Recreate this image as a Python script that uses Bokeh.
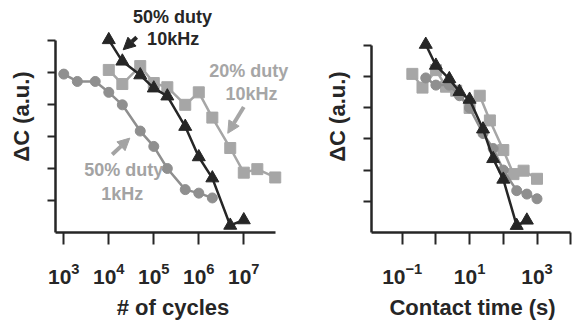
from bokeh.plotting import figure
from bokeh.layouts import row
from bokeh.models import Range1d, FixedTicker, LogTickFormatter, Label, Arrow, NormalHead
from bokeh.embed import file_html
from bokeh.resources import INLINE

# ---- data ----
cycles_tri = [1e4, 2e4, 5e4, 1e5, 2e5, 5e5, 1e6, 2e6, 5e6, 1e7]          # 50% duty 10kHz
dc_tri = [6.02, 5.35, 4.92, 4.51, 4.26, 3.31, 2.36, 1.70, 0.22, 0.39]
time_tri = [0.5, 1, 2.5, 5, 10, 25, 50, 100, 250, 500]

cycles_sq = [1e4, 2e4, 5e4, 1e5, 2e5, 5e5, 1e6, 2e6, 5e6, 1e7, 2e7, 5e7]  # 20% duty 10kHz
dc_sq = [5.08, 4.64, 5.20, 4.67, 4.54, 3.99, 4.38, 3.59, 2.64, 1.87, 1.98, 1.72]
time_sq = [0.2, 0.4, 1, 2, 4, 10, 20, 40, 100, 200, 400, 1000]

cycles_circ = [1e3, 2e3, 5e3, 1e4, 2e4, 5e4, 1e5, 2e5, 5e5, 1e6, 2e6]    # 50% duty 1kHz
dc_circ = [4.95, 4.72, 4.72, 4.38, 3.99, 3.17, 2.69, 2.00, 1.34, 1.23, 1.08]
time_circ = [0.5, 1, 2.5, 5, 10, 25, 50, 100, 250, 500, 1000]

left_xticks = [1e3, 1e4, 1e5, 1e6, 1e7]
right_xticks = [1e-1, 1e1, 1e3]
right_xminor = [1e0, 1e2, 1e4]
yticks = [1, 2, 3, 4, 5, 6]

FONT = "Liberation Sans"
DARK = "#262626"
C_SQ = "#a6a6a6"
C_CI = "#8f8f8f"
C_TX = "#a3a3a3"


def make(width, height, xr, yr, xbounds, mbl, mbb, xlabel, ticks, minor):
    p = figure(width=width, height=height, x_axis_type="log",
               x_range=xr, y_range=yr, output_backend="svg",
               toolbar_location=None, min_border_left=mbl, min_border_right=0,
               min_border_top=0, min_border_bottom=mbb)
    p.grid.visible = False
    p.outline_line_color = None
    xa = p.xaxis[0]
    xa.ticker = FixedTicker(ticks=ticks, minor_ticks=minor)
    xa.formatter = LogTickFormatter()
    xa.bounds = xbounds
    xa.axis_line_width = 2.5
    xa.axis_line_color = DARK
    xa.major_tick_out = 12
    xa.major_tick_in = 0
    xa.minor_tick_out = 12
    xa.minor_tick_in = 0
    xa.major_tick_line_width = 2
    xa.minor_tick_line_width = 2
    xa.major_tick_line_color = DARK
    xa.minor_tick_line_color = DARK
    xa.major_label_text_font = FONT
    xa.major_label_text_font_style = "bold"
    xa.major_label_text_font_size = "21px"
    xa.major_label_text_color = DARK
    xa.major_label_standoff = 18
    xa.axis_label = xlabel
    xa.axis_label_text_font = FONT
    xa.axis_label_text_font_style = "bold"
    xa.axis_label_text_font_size = "22px"
    xa.axis_label_text_color = DARK
    xa.axis_label_standoff = 8

    ya = p.yaxis[0]
    ya.ticker = FixedTicker(ticks=yticks)
    ya.bounds = (0, 6)
    ya.axis_line_width = 2.5
    ya.axis_line_color = DARK
    ya.major_tick_out = 8
    ya.major_tick_in = 0
    ya.minor_tick_out = 0
    ya.minor_tick_in = 0
    ya.major_tick_line_width = 2
    ya.major_tick_line_color = DARK
    ya.major_label_text_font_size = "0px"
    ya.major_label_standoff = 0
    ya.axis_label = "ΔC (a.u.)"
    ya.axis_label_text_font = FONT
    ya.axis_label_text_font_style = "bold"
    ya.axis_label_text_font_size = "22px"
    ya.axis_label_text_color = DARK
    ya.axis_label_standoff = 14
    return p


def series(p, x, y, color, marker, size):
    p.line(x, y, line_color=color, line_width=2.5)
    p.scatter(x, y, marker=marker, size=size, fill_color=color, line_color=color)


# ---- left panel: # of cycles ----
p1 = make(290, 322, Range1d(10 ** 2.816, 10 ** 8.038), Range1d(0, 7.25),
          (10 ** 2.816, 10 ** 7.70), 55, 86, "# of cycles", left_xticks, [])
series(p1, cycles_circ, dc_circ, C_CI, "circle", 10)
series(p1, cycles_sq, dc_sq, C_SQ, "square", 11)
series(p1, cycles_tri, dc_tri, DARK, "triangle", 13)


def lab(p, x, y, text, color):
    p.add_layout(Label(x=x, y=y, text=text, text_align="center", text_baseline="middle",
                       text_font=FONT, text_font_style="bold", text_font_size="18px",
                       text_color=color))


def arrow(p, x0, y0, x1, y1, color):
    p.add_layout(Arrow(x_start=x0, y_start=y0, x_end=x1, y_end=y1, line_color=color,
                       line_width=4, end=NormalHead(size=12, fill_color=color,
                                                    line_color=color)))


lab(p1, 10 ** 5.415, 6.73, "50% duty", DARK)
lab(p1, 10 ** 5.43, 6.05, "10kHz", DARK)
arrow(p1, 10 ** 4.62, 6.10, 10 ** 4.32, 5.71, DARK)

lab(p1, 10 ** 7.111, 5.05, "20% duty", C_SQ)
lab(p1, 10 ** 7.17, 4.33, "10kHz", C_SQ)
arrow(p1, 10 ** 7.0, 3.92, 10 ** 6.644, 3.10, C_SQ)

lab(p1, 10 ** 4.333, 1.94, "50% duty", C_TX)
lab(p1, 10 ** 4.30, 1.20, "1kHz", C_TX)
arrow(p1, 10 ** 4.076, 2.44, 10 ** 4.467, 2.95, C_TX)

# ---- right panel: contact time ----
p2 = make(283, 322, Range1d(10 ** -1.911, 10 ** 4.083), Range1d(0, 7.43),
          (10 ** -1.911, 10 ** 4.0), 81, 88, "Contact time (s)", right_xticks, right_xminor)
series(p2, time_sq, dc_sq, C_SQ, "square", 11)
series(p2, time_circ, dc_circ, C_CI, "circle", 10)
series(p2, time_tri, dc_tri, DARK, "triangle", 13)

layout = row(p1, p2)
open("out.html", "w").write(file_html(layout, INLINE))
